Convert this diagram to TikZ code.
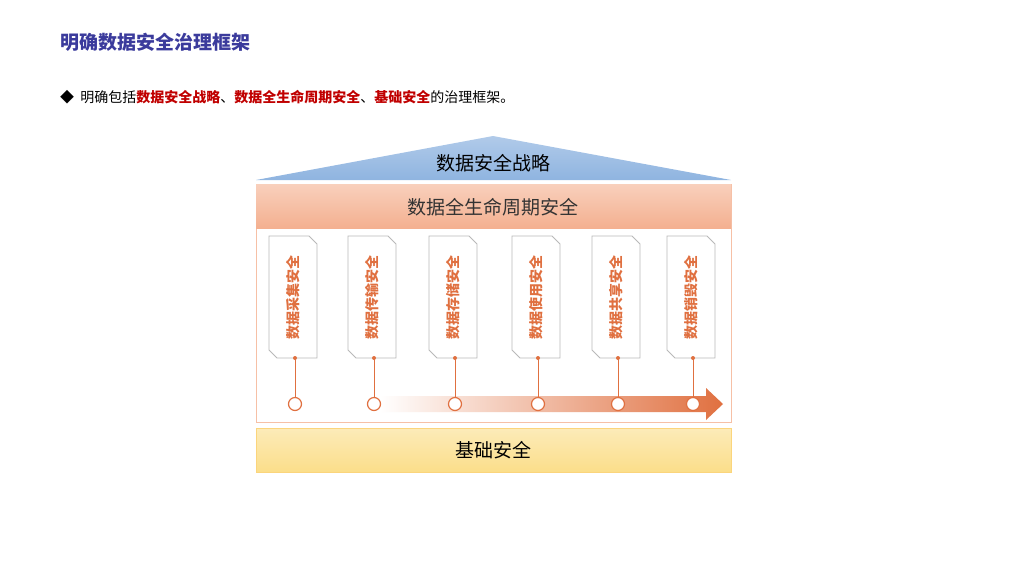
\documentclass[tikz,border=0pt]{standalone}
\usepackage{fontspec}
\setmainfont{Noto Sans CJK SC}
\usetikzlibrary{shadings}
\definecolor{ttl}{HTML}{3B3B9C}
\definecolor{red1}{HTML}{C00000}
\definecolor{org}{HTML}{E07040}
\definecolor{orgl}{HTML}{F4B090}
\definecolor{blu}{HTML}{8FB4E0}
\definecolor{yel}{HTML}{FBDE8A}
\tikzset{card/.style={draw=gray!55,fill=white,line width=0.8pt},
 cardtxt/.style={rotate=90,text=org,font=\bfseries\fontsize{14}{16}\selectfont},
 dot/.style={circle,draw=org,fill=white,line width=1.2pt,minimum size=13pt,inner sep=0pt},
 stem/.style={draw=org,line width=0.9pt}}
\begin{document}
\begin{tikzpicture}[x=1pt,y=-1pt]
\useasboundingbox (0,0) rectangle (1024,576);
\node[anchor=west,text=ttl,font=\bfseries\fontsize{19}{22}\selectfont,inner sep=0] (title) at (60,42) {明确数据安全治理框架};
\node[anchor=west,font=\fontsize{14}{16}\selectfont,inner sep=0] (bul) at (60,97) {◆\ \ 明确包括\textcolor{red1}{\bfseries 数据安全战略}、\textcolor{red1}{\bfseries 数据全生命周期安全}、\textcolor{red1}{\bfseries 基础安全}的治理框架。};
% roof
\shade[top color=blu!70,bottom color=blu] (256,180) -- (493,136) -- (731,180) -- cycle;
\node[font=\fontsize{19}{22}\selectfont] (roof) at (493,163) {数据安全战略};
% frame
\draw[draw=orgl!80,fill=white] (256,184) rectangle (731,422);
\shade[top color=orgl!60,bottom color=orgl] (256,184) rectangle (731,228);
\node[font=\fontsize{19}{22}\selectfont,text=black!80] (life) at (493,207) {数据全生命周期安全};
% arrow
\shade[left color=white,right color=org] (380,396) -- (706,396) -- (706,388) -- (723,404) -- (706,420) -- (706,412) -- (380,412) -- cycle;
\foreach \x/\t [count=\i] in {293/数据采集安全,372/数据传输安全,453/数据存储安全,536/数据使用安全,616/数据共享安全,691/数据销毁安全}{
  \draw[card] (\x-24,236) -- (\x+16,236) -- (\x+24,244) -- (\x+24,358) -- (\x-16,358) -- (\x-24,350) -- cycle;
  \node[cardtxt] (c\i) at (\x,297) {\t};
  \node[dot] (d\i) at (\x+2,404) {};
  \fill[org] (\x+2,358) circle (2);
  \draw[stem] (\x+2,358) -- (d\i);
}
% base
\shade[top color=yel!60,bottom color=yel] (256,428) rectangle (731,472);
\draw[yel!90!orange] (256,428) rectangle (731,472);
\node[font=\fontsize{19}{22}\selectfont] (base) at (493,450) {基础安全};
\end{tikzpicture}
\end{document}
